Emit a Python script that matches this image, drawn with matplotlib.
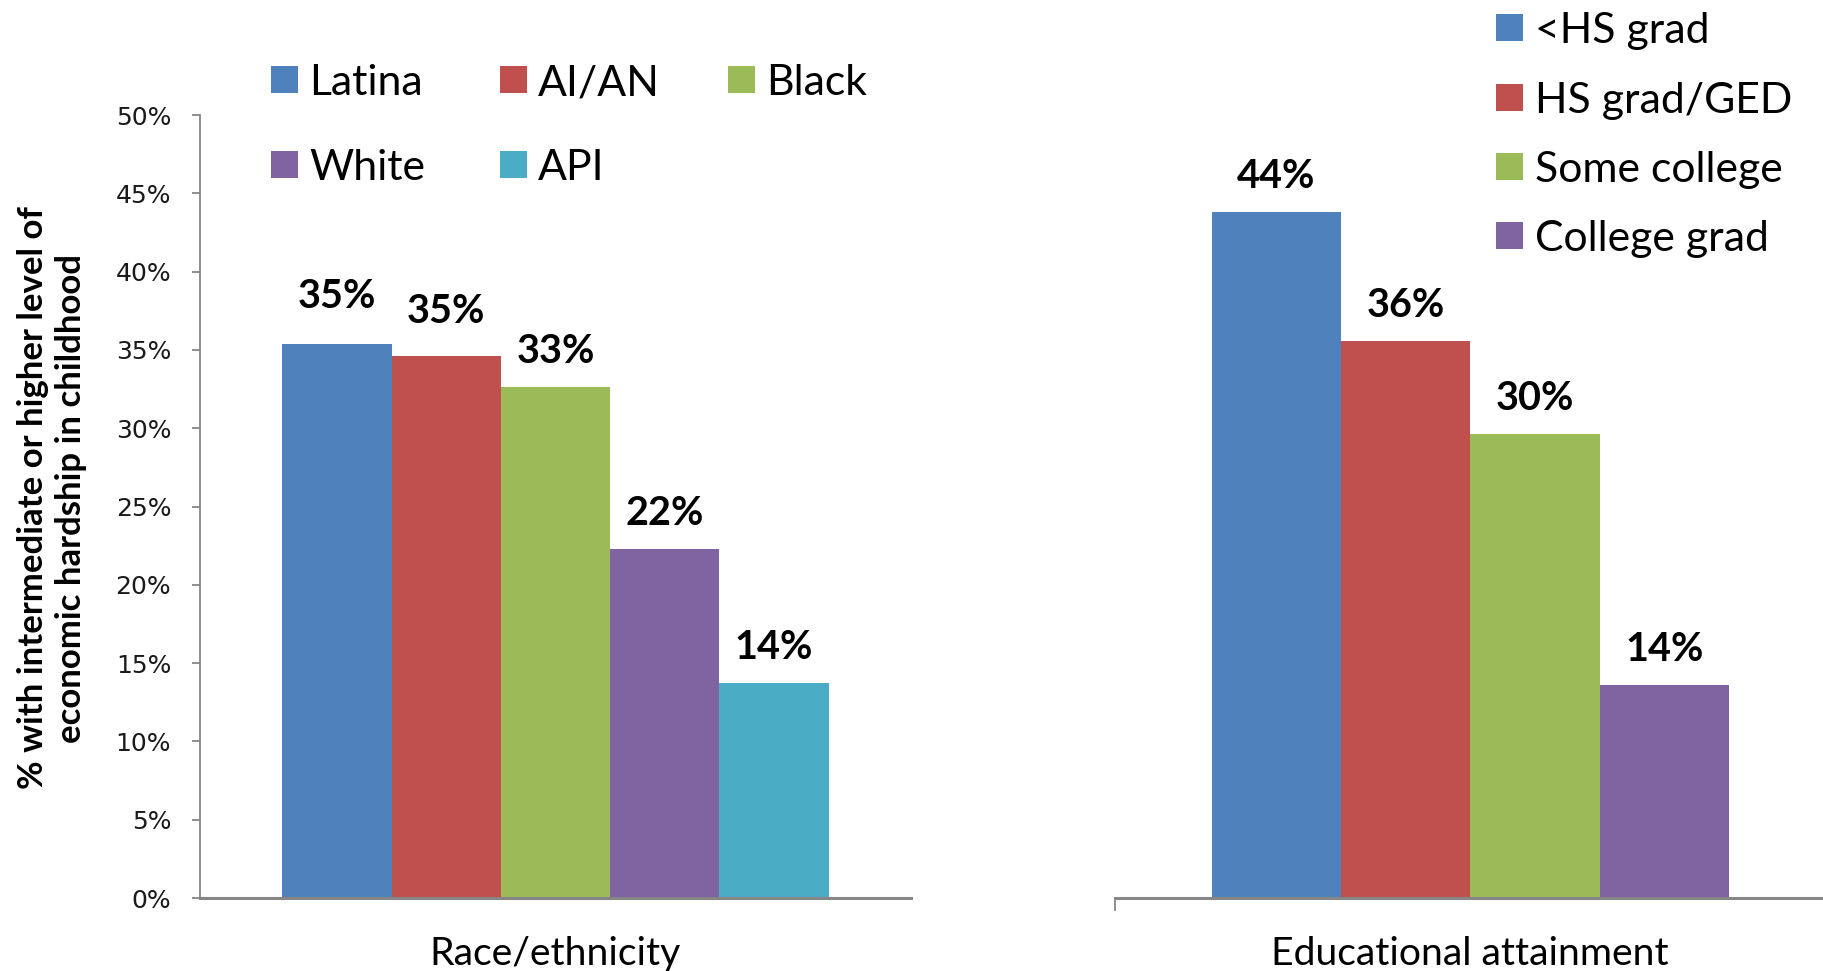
import matplotlib
matplotlib.use('Agg')
import matplotlib.pyplot as plt
from matplotlib.patches import Rectangle

# ---------------- data ----------------
race_groups = ['Latina', 'AI/AN', 'Black', 'White', 'API']
race_values = [35.4, 34.6, 32.6, 22.3, 13.7]
edu_groups = ['<HS grad', 'HS grad/GED', 'Some college', 'College grad']
edu_values = [43.8, 35.6, 29.6, 13.6]
panel_titles = ['Race/ethnicity', 'Educational attainment']
y_ticks = [0, 5, 10, 15, 20, 25, 30, 35, 40, 45, 50]
y_tick_labels = [f'{t}%' for t in y_ticks]
y_label = '% with intermediate or higher level of\neconomic hardship in childhood'

# ---------------- style ----------------
COLORS = ['#4F81BD', '#C0504D', '#9BBB59', '#8064A2', '#4BACC6']
GRAY = '#868686'
TEXT_FONT = ['Lato', 'DejaVu Sans']
W, H = 1824, 971
PT = 72 / 100.0  # points per pixel at dpi 100

fig = plt.figure(figsize=(W / 100, H / 100), dpi=100)


def fx(px):
    return px / W


def fy(py):
    return 1 - py / H


AX_TOP, AX_BOT = 115, 898
ax1 = fig.add_axes([fx(200), fy(AX_BOT), 711 / W, (AX_BOT - AX_TOP) / H])
ax2 = fig.add_axes([fx(1114.5), fy(AX_BOT), 711.5 / W, (AX_BOT - AX_TOP) / H])


def draw_bars(ax, values, colors, total, lifts):
    n = len(values)
    w = total / n
    xs = [-total / 2 + w * (i + 0.5) for i in range(n)]
    ax.bar(xs, values, width=w, color=colors, linewidth=0)
    for x, v, lift in zip(xs, values, lifts):
        ax.annotate(f'{v:.0f}%', (x, v), xytext=(0, (24 + lift) * PT),
                    textcoords='offset points', ha='center', va='baseline',
                    fontsize=28.5, fontweight='bold', family=TEXT_FONT,
                    color='black')


draw_bars(ax1, race_values, COLORS[:5], 0.768, [12, 9, 0, 0, 0])
draw_bars(ax2, edu_values, COLORS[:4], 0.727, [0, 0, 0, 0])

for ax, title in zip((ax1, ax2), panel_titles):
    ax.set_xlim(-0.5, 0.5)
    ax.set_ylim(0, 50)
    ax.spines['top'].set_visible(False)
    ax.spines['right'].set_visible(False)
    ax.spines['bottom'].set_color(GRAY)
    ax.spines['bottom'].set_linewidth(2.2)
    ax.set_xticks([0], [title])
    ax.tick_params(axis='x', which='major', length=0, pad=27)
    for lab in ax.get_xticklabels():
        lab.set_fontfamily(TEXT_FONT)
        lab.set_fontsize(28.2)
    ax.set_facecolor('none')

# left axis
ax1.spines['left'].set_color(GRAY)
ax1.spines['left'].set_linewidth(1.3)
ax1.set_yticks(y_ticks, y_tick_labels)
ax1.tick_params(axis='y', direction='out', length=8 * PT, width=1.3,
                color=GRAY, pad=15, labelsize=18, labelcolor='#1a1a1a')
ax1.set_ylabel(y_label, fontsize=25, fontweight='bold', family=TEXT_FONT,
               multialignment='center', linespacing=1.25)
ax1.yaxis.set_label_coords((52 - 200) / 711, (AX_BOT - 498) / (AX_BOT - AX_TOP))
ax1.yaxis.label.set_va('center')

# right axis
ax2.spines['left'].set_visible(False)
ax2.set_yticks([])
ax2.set_xticks([-0.5], minor=True)
ax2.tick_params(axis='x', which='minor', length=13 * PT, width=1.3,
                color=GRAY, direction='out')


def draw_legend(labels, colors, x_cols, y_rows, ncol, text_dx, size, fontsize):
    cap = 0.7165 * fontsize / PT
    for i, (lab, col) in enumerate(zip(labels, colors)):
        r, c = divmod(i, ncol)
        xl, yc = x_cols[c], y_rows[r]
        fig.patches.append(Rectangle((fx(xl), fy(yc + size / 2)), size / W, size / H,
                                     transform=fig.transFigure, color=col, lw=0))
        fig.text(fx(xl + text_dx), fy(yc + cap / 2), lab, ha='left', va='baseline',
                 fontsize=fontsize, family=TEXT_FONT, color='black')


draw_legend(race_groups, COLORS[:5], [271, 500, 728], [80, 165], 3, 38, 27, 30.8)
draw_legend(edu_groups, COLORS[:4], [1496], [28, 97.5, 166.5, 236], 1, 39, 27, 30.8)

fig.savefig('out.png', dpi=100)
